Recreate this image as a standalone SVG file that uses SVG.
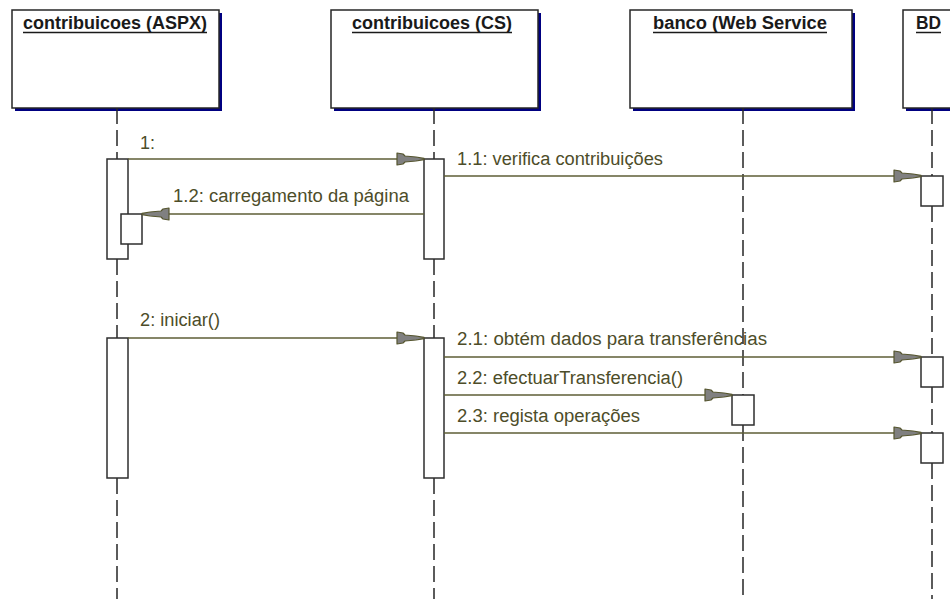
<svg xmlns="http://www.w3.org/2000/svg" width="950" height="599" viewBox="0 0 950 599">
  <style>
    .shadow { fill: #000080; }
    .box { fill: #ffffff; stroke: #262626; stroke-width: 1.5; }
    .title { font-family: "Liberation Sans", Arial, sans-serif; font-size: 18px; font-weight: bold; fill: #1a1a1a; }
    .uline { stroke: #1a1a1a; stroke-width: 1.5; }
    .life { stroke: #262626; stroke-width: 1.5; stroke-dasharray: 16 6; fill: none; }
    .bar { fill: #ffffff; stroke: #2e2e2e; stroke-width: 1.5; }
    .msg { stroke: #5e5e36; stroke-width: 1.7; fill: none; marker-end: url(#arrow); }
    .lbl { font-family: "Liberation Sans", Arial, sans-serif; font-size: 18px; fill: #4d4d29; }
  </style>
  <defs>
    <marker id="arrow" markerUnits="userSpaceOnUse" markerWidth="32" markerHeight="16" viewBox="-29 -8 32 16" refX="0" refY="0" orient="auto" overflow="visible">
      <path d="M-27,-6 L-21,-5 L-19,-3 L-8,-2 L0,-0.6 L0,0.6 L-8,2 L-19,3 L-21,5 L-27,6 Z" fill="#808080" stroke="#55552e" stroke-width="1.2" stroke-linejoin="round"/>
    </marker>
  </defs>
  <rect width="950" height="599" fill="#ffffff"/>

  <g id="labels">
    <text class="lbl" x="140" y="149">1:</text>
    <text class="lbl" x="457" y="165" textLength="206" lengthAdjust="spacingAndGlyphs">1.1: verifica contribuições</text>
    <text class="lbl" x="173" y="202" textLength="236" lengthAdjust="spacingAndGlyphs">1.2: carregamento da página</text>
    <text class="lbl" x="140" y="326" textLength="80" lengthAdjust="spacingAndGlyphs">2: iniciar()</text>
    <text class="lbl" x="457" y="345" textLength="310" lengthAdjust="spacingAndGlyphs">2.1: obtém dados para transferências</text>
    <text class="lbl" x="457" y="384" textLength="226" lengthAdjust="spacingAndGlyphs">2.2: efectuarTransferencia()</text>
    <text class="lbl" x="457" y="422" textLength="183" lengthAdjust="spacingAndGlyphs">2.3: regista operações</text>
  </g>

  <g id="node-aspx">
    <rect class="shadow" x="15" y="13" width="207" height="98"/>
    <rect class="box" x="12" y="10" width="207" height="98"/>
    <text class="title" x="23" y="29" textLength="184" lengthAdjust="spacingAndGlyphs">contribuicoes (ASPX)</text>
    <line class="uline" x1="23" y1="32.5" x2="207" y2="32.5"/>
    <path class="life" d="M117,108 V159 M117,259 V338 M117,478 V599"/>
    <rect class="bar" x="107" y="159" width="21" height="100"/>
    <rect class="bar" x="121" y="214" width="21" height="30"/>
    <rect class="bar" x="107" y="338" width="21" height="140"/>
  </g>

  <g id="node-cs">
    <rect class="shadow" x="334" y="13" width="207" height="98"/>
    <rect class="box" x="331" y="10" width="207" height="98"/>
    <text class="title" x="352" y="29" textLength="160" lengthAdjust="spacingAndGlyphs">contribuicoes (CS)</text>
    <line class="uline" x1="352" y1="32.5" x2="512" y2="32.5"/>
    <path class="life" d="M434,108 V159 M434,259 V338 M434,478 V599"/>
    <rect class="bar" x="424" y="159" width="20" height="100"/>
    <rect class="bar" x="424" y="338" width="20" height="140"/>
  </g>

  <g id="node-banco">
    <rect class="shadow" x="633" y="13" width="222" height="98"/>
    <rect class="box" x="630" y="10" width="222" height="98"/>
    <text class="title" x="653" y="29" textLength="174" lengthAdjust="spacingAndGlyphs">banco (Web Service</text>
    <line class="uline" x1="653" y1="32.5" x2="827" y2="32.5"/>
    <path class="life" d="M743,108 V395 M743,425 V599"/>
    <rect class="bar" x="732" y="395" width="22" height="30"/>
  </g>

  <g id="node-bd">
    <rect class="shadow" x="906" y="13" width="60" height="98"/>
    <rect class="box" x="903" y="10" width="60" height="98"/>
    <text class="title" x="916" y="29" textLength="25" lengthAdjust="spacingAndGlyphs">BD</text>
    <line class="uline" x1="916" y1="32.5" x2="941" y2="32.5"/>
    <path class="life" d="M932,108 V176 M932,206 V357 M932,387 V433 M932,463 V599"/>
    <rect class="bar" x="921" y="176" width="22" height="30"/>
    <rect class="bar" x="921" y="357" width="22" height="30"/>
    <rect class="bar" x="921" y="433" width="22" height="30"/>
  </g>

  <g id="connectors">
    <line class="msg" x1="128" y1="159" x2="424" y2="159"/>
    <line class="msg" x1="444" y1="176" x2="921" y2="176"/>
    <line class="msg" x1="424" y1="214" x2="142" y2="214"/>
    <line class="msg" x1="128" y1="338" x2="424" y2="338"/>
    <line class="msg" x1="444" y1="357" x2="921" y2="357"/>
    <line class="msg" x1="444" y1="395" x2="732" y2="395"/>
    <line class="msg" x1="444" y1="433" x2="921" y2="433"/>
  </g>
</svg>
